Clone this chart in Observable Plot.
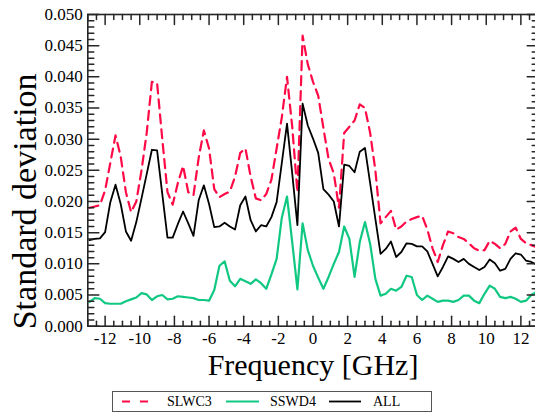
<!DOCTYPE html>
<html>
<head>
<meta charset="utf-8">
<script src="https://cdn.jsdelivr.net/npm/d3@7"></script>
<script src="https://cdn.jsdelivr.net/npm/@observablehq/plot@0.6"></script>
<style>
  html, body { margin: 0; padding: 0; background: #fff; }
  #wrap { width: 535px; height: 416px; overflow: hidden; position: relative; font-family: "Liberation Serif", "Times New Roman", Times, serif; }
  #legend { position: relative; width: 535px; height: 28px; }
  #legend .box { position: absolute; left: 112px; top: 3px; width: 318px; height: 19px; border: 1px solid #555; }
  #legend .lab { position: absolute; top: 3px; height: 21px; line-height: 21px; font-size: 14px; color: #000; }
  #legend svg { position: absolute; top: 3px; }
</style>
</head>
<body>
<div id="wrap">
  <div id="chart"></div>
  <div id="legend"></div>
</div>
<script>
// Frequency grid [GHz]
const freq = [-12.9,-12.6,-12.3,-12.0,-11.7,-11.4,-11.1,-10.8,-10.5,-10.2,-9.9,-9.6,-9.3,-9.0,-8.7,-8.4,-8.1,-7.8,-7.5,-7.2,-6.9,-6.6,-6.3,-6.0,-5.7,-5.4,-5.1,-4.8,-4.5,-4.2,-3.9,-3.6,-3.3,-3.0,-2.7,-2.4,-2.1,-1.8,-1.5,-1.2,-0.9,-0.6,-0.3,0,0.3,0.6,0.9,1.2,1.5,1.8,2.1,2.4,2.7,3.0,3.3,3.6,3.9,4.2,4.5,4.8,5.1,5.4,5.7,6.0,6.3,6.6,6.9,7.2,7.5,7.8,8.1,8.4,8.7,9.0,9.3,9.6,9.9,10.2,10.5,10.8,11.1,11.4,11.7,12.0,12.3,12.6,12.9];

// SLWC3 (red dashed)
const slwc3 = [0.0190,0.0192,0.0194,0.0218,0.0262,0.0306,0.0272,0.0215,0.0183,0.0200,
0.0250,0.0310,0.0392,0.0390,0.0300,0.0215,0.0195,0.0230,0.0257,0.0215,
0.0210,0.0270,0.0314,0.0285,0.0220,0.0207,0.0212,0.0216,0.0240,0.0278,
0.0285,0.0240,0.0205,0.0202,0.0212,0.0235,0.0285,0.0335,0.0400,0.0320,
0.0215,0.0466,0.0420,0.0392,0.0370,0.0318,0.0268,0.0245,0.0190,0.0310,
0.0320,0.0330,0.0356,0.0350,0.0310,0.0250,0.0165,0.0175,0.0185,0.0155,
0.0160,0.0168,0.0172,0.0175,0.0177,0.0155,0.0125,0.0103,0.0130,0.0152,
0.0149,0.0143,0.0140,0.0133,0.0125,0.0121,0.0122,0.0137,0.0132,0.0125,
0.0132,0.0152,0.0158,0.0140,0.0133,0.0130,0.0127];

// SSWD4 (green)
const sswd4 = [0.0039,0.0045,0.0044,0.0037,0.0036,0.0036,0.0036,0.0040,0.0043,0.0046,
0.0053,0.0051,0.0042,0.0048,0.0050,0.0043,0.0044,0.0048,0.0047,0.0046,
0.0045,0.0042,0.0042,0.0041,0.0058,0.0097,0.0104,0.0073,0.0064,0.0076,
0.0072,0.0068,0.0075,0.0069,0.0060,0.0083,0.0108,0.0174,0.0208,0.0135,
0.0059,0.0165,0.0122,0.0097,0.0078,0.0060,0.0079,0.0100,0.0119,0.0160,
0.0140,0.0079,0.0135,0.0167,0.0132,0.0076,0.0049,0.0052,0.0060,0.0057,
0.0063,0.0081,0.0079,0.0050,0.0042,0.0049,0.0044,0.0039,0.0041,0.0041,
0.0039,0.0042,0.0049,0.0049,0.0041,0.0037,0.0052,0.0065,0.0060,0.0047,
0.0045,0.0047,0.0044,0.0039,0.0041,0.0050,0.0055];

// ALL (black)
const all = [0.0138,0.0140,0.0141,0.0151,0.0199,0.0227,0.0196,0.0152,0.0137,0.0167,
0.0205,0.0244,0.0283,0.0282,0.0212,0.0142,0.0142,0.0164,0.0184,0.0165,
0.0145,0.0202,0.0226,0.0196,0.0159,0.0160,0.0166,0.0160,0.0155,0.0194,
0.0208,0.0170,0.0152,0.0162,0.0160,0.0175,0.0199,0.0262,0.0325,0.0245,
0.0162,0.0357,0.0322,0.0301,0.0278,0.0220,0.0211,0.0200,0.0160,0.0259,
0.0257,0.0247,0.0280,0.0286,0.0229,0.0172,0.0116,0.0124,0.0136,0.0111,
0.0119,0.0133,0.0132,0.0128,0.0128,0.0120,0.0100,0.0080,0.0095,0.0112,
0.0108,0.0103,0.0108,0.0100,0.0095,0.0090,0.0095,0.0107,0.0101,0.0089,
0.0092,0.0108,0.0117,0.0115,0.0105,0.0103,0.0099];

// Tick values
const xMajor = [-12,-10,-8,-6,-4,-2,0,2,4,6,8,10,12];
const xMinor = d3.range(-13, 13.001, 0.5).filter(v => !xMajor.includes(v));
const yMajor = [0,0.005,0.010,0.015,0.020,0.025,0.030,0.035,0.040,0.045,0.050];
const yMinor = d3.range(0, 51).map(i => i / 1000).filter((v, i) => i % 5 !== 0);

const seriesNames = ["SLWC3", "SSWD4", "ALL"];
const colors = {SLWC3: "#ff0a46", SSWD4: "#10c882", ALL: "#000000"};

const rows = freq.map((f, i) => ({f, SLWC3: slwc3[i], SSWD4: sswd4[i], ALL: all[i]}));

const serif = "'Liberation Serif', 'Times New Roman', Times, serif";
const tickShape = { draw(ctx, l) { ctx.moveTo(0, 0); ctx.lineTo(0, -l); } };
const axisColor = "#262626";
function ticks(values, dim, anchor, rotate, len) {
  return Plot.vector(values, {
    [dim]: d => d, frameAnchor: anchor, rotate, length: len, anchor: "start",
    shape: tickShape, stroke: axisColor, strokeWidth: 1.5
  });
}

const svg = Plot.plot({
  width: 535,
  height: 388,
  marginLeft: 87.3,
  marginRight: -2.7,
  marginTop: 14,
  marginBottom: 62.3,
  x: {domain: [-13, 13]},
  y: {domain: [0, 0.05]},
  style: {background: "white", overflow: "hidden", color: "#000"},
  marks: [
    Plot.line(rows, {x: "f", y: "SLWC3", stroke: colors.SLWC3, strokeWidth: 2.2, strokeDasharray: "9,6"}),
    Plot.line(rows, {x: "f", y: "SSWD4", stroke: colors.SSWD4, strokeWidth: 2.2}),
    Plot.line(rows, {x: "f", y: "ALL", stroke: colors.ALL, strokeWidth: 1.8}),
    Plot.frame({stroke: axisColor, strokeWidth: 1.6}),
    ticks(xMajor, "x", "bottom", 0, 10),
    ticks(xMinor, "x", "bottom", 0, 5),
    ticks(xMajor, "x", "top", 180, 10),
    ticks(xMinor, "x", "top", 180, 5),
    ticks(yMajor, "y", "left", 90, 11),
    ticks(yMinor, "y", "left", 90, 6),
    ticks(yMajor, "y", "right", -90, 11),
    ticks(yMinor, "y", "right", -90, 6),
    Plot.axisX(xMajor, {tickSize: 0, tickPadding: 6, tickFormat: d => String(d), label: null, fontSize: 17}),
    Plot.axisY(yMajor, {tickSize: 0, tickPadding: 5, tickFormat: d => d.toFixed(3), label: null, fontSize: 17}),
    Plot.text(["Frequency [GHz]"], {frameAnchor: "bottom", textAnchor: "middle", lineAnchor: "middle", dy: 39, fontSize: 30, text: d => d}),
    Plot.text(["Standard deviation"], {frameAnchor: "left", textAnchor: "middle", lineAnchor: "middle", rotate: -90, dx: -63, dy: 31, fontSize: 34, text: d => d})
  ]
});
svg.setAttribute("font-family", serif);
svg.style.fontFamily = serif;
document.getElementById("chart").append(svg);

// Legend (HTML below the SVG)
const legend = document.getElementById("legend");
const box = document.createElement("div");
box.className = "box";
legend.append(box);
const legendPos = [
  {name: "SLWC3", lx: 122, lw: 29, tx: 167, dash: "8,10"},
  {name: "SSWD4", lx: 226, lw: 33, tx: 270, dash: null},
  {name: "ALL",   lx: 329, lw: 32, tx: 373, dash: null}
];
legendPos.forEach(p => {
  const s = document.createElementNS("http://www.w3.org/2000/svg", "svg");
  s.setAttribute("width", p.lw);
  s.setAttribute("height", 21);
  s.style.left = p.lx + "px";
  const ln = document.createElementNS("http://www.w3.org/2000/svg", "line");
  ln.setAttribute("x1", 0); ln.setAttribute("x2", p.lw);
  ln.setAttribute("y1", 10.5); ln.setAttribute("y2", 10.5);
  ln.setAttribute("stroke", colors[p.name]);
  ln.setAttribute("stroke-width", p.name === "ALL" ? 1.8 : 2.2);
  if (p.dash) ln.setAttribute("stroke-dasharray", p.dash);
  s.append(ln);
  legend.append(s);
  const t = document.createElement("div");
  t.className = "lab";
  t.style.left = p.tx + "px";
  t.textContent = p.name;
  legend.append(t);
});
</script>
</body>
</html>
